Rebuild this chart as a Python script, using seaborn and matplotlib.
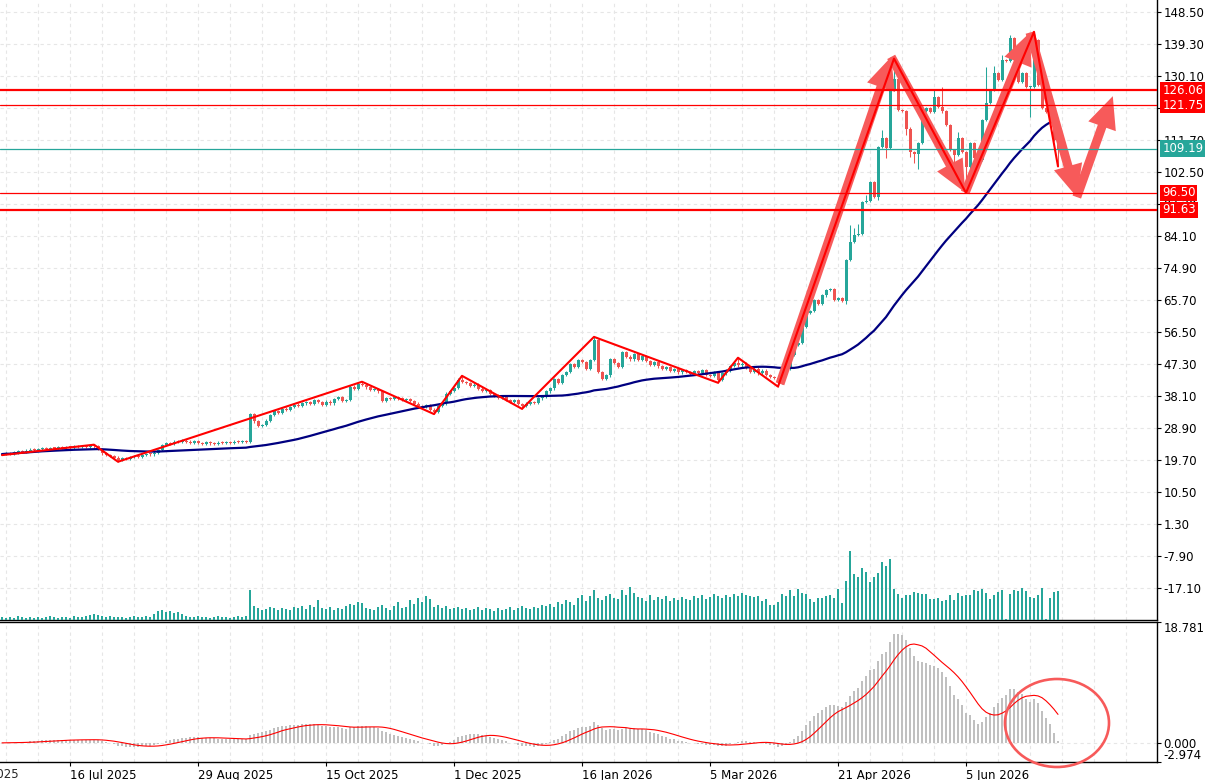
import numpy as np
import pandas as pd
import matplotlib
matplotlib.use("Agg")
import matplotlib.pyplot as plt
import matplotlib.transforms as mtransforms
from matplotlib.patches import Ellipse, FancyArrowPatch, ArrowStyle
import seaborn as sns

# daily closes, one per bar
closes = [
    21.4, 21.6, 21.5, 21.9, 22.2, 22.0, 22.4, 22.7, 22.5, 22.9,
    23.1, 22.8, 23.2, 23.0, 23.4, 23.1, 23.5, 23.3, 23.6, 23.4,
    23.7, 23.5, 23.8, 23.6, 22.8, 21.6, 21.2, 20.8, 20.4, 19.8,
    20.2, 20.0, 20.5, 20.9, 20.6, 21.1, 21.5, 21.3, 21.8, 22.6,
    24.0, 24.6, 24.3, 25.0, 24.8, 25.3, 25.0, 24.7, 25.1, 24.6,
    24.4, 24.8, 24.5, 24.3, 24.7, 24.6, 24.9, 24.7, 25.0, 24.8,
    25.2, 24.9, 33.0, 30.8, 29.6, 29.8, 31.0, 32.6, 33.8, 33.2,
    34.5, 34.1, 35.0, 35.6, 35.2, 36.0, 36.4, 35.9, 37.0, 36.4,
    35.6, 36.5, 36.0, 37.2, 37.8, 36.6, 37.0, 40.8, 40.2, 41.6,
    41.2, 40.6, 39.8, 40.1, 39.4, 36.8, 37.6, 37.2, 37.8, 37.4,
    36.9, 37.3, 36.6, 35.9, 35.3, 34.9, 35.4, 34.2, 33.6, 35.2,
    36.0, 38.8, 39.6, 40.4, 42.8, 42.2, 41.8, 41.0, 41.4, 40.2,
    39.6, 39.9, 38.7, 38.2, 37.5, 37.9, 37.0, 36.4, 36.9, 35.8,
    35.3, 35.9, 36.4, 36.1, 37.4, 37.9, 39.4, 40.3, 42.9, 41.8,
    44.2, 45.0, 47.2, 46.4, 48.4, 47.8, 45.9, 48.5, 54.2, 45.0,
    43.0, 44.0, 48.8, 47.6, 46.5, 50.8, 49.4, 48.6, 50.2, 48.4,
    49.6, 48.2, 47.1, 47.8, 46.6, 46.0, 46.4, 45.3, 45.8, 44.9,
    45.6, 45.0, 44.4, 45.3, 44.8, 45.6, 44.2, 43.8, 44.9, 42.8,
    44.6, 45.4, 46.8, 47.6, 46.9, 47.4, 46.2, 45.1, 46.0, 44.6,
    45.4, 44.1, 43.5, 43.2, 42.0, 45.0, 46.0, 49.9, 52.7, 53.3,
    58.0, 62.0, 62.6, 65.7, 64.6, 67.0, 68.6, 68.8, 65.7, 66.3,
    65.5, 77.2, 82.4, 84.4, 84.7, 93.9, 94.2, 99.7, 95.3, 109.7,
    112.3, 109.4, 126.0, 129.2, 120.3, 120.0, 115.0, 108.2, 107.6, 110.9,
    120.0, 120.8, 119.8, 124.0, 121.2, 119.9, 116.0, 108.8, 107.4, 112.3,
    108.3, 104.0, 110.9, 106.5, 105.9, 117.4, 122.4, 126.0, 131.0, 129.0,
    134.7, 134.5, 141.0, 135.6, 128.4, 131.0, 126.9, 127.0, 140.4, 127.5,
    120.9, 119.7, 117.5, 111.7, 109.19,
]
first_open = 21.2

# long shadows that stand out on the chart
high_marks = {212: 87.2, 213: 86.5, 214: 87.5, 216: 96.0, 220: 114.5, 224: 130.5,
              230: 121.7, 233: 126.0, 235: 127.0, 239: 114.0, 246: 132.8,
              248: 133.0, 250: 136.0, 252: 141.9}
low_marks = {211: 64.5, 219: 94.5, 221: 106.5, 226: 113.0, 227: 106.8, 228: 105.0,
             229: 103.5, 238: 105.0, 242: 100.0, 243: 104.0, 244: 103.0, 257: 118.4}

# volume per bar
volumes = [
    3, 2, 3, 2, 4, 3, 2, 3, 2, 3,
    2, 3, 4, 3, 2, 3, 3, 2, 4, 3,
    3, 4, 5, 6, 5, 4, 3, 4, 3, 3,
    3, 2, 3, 4, 3, 3, 4, 3, 6, 9,
    10, 8, 9, 7, 8, 6, 4, 3, 3, 4,
    3, 3, 2, 3, 4, 3, 3, 2, 3, 4,
    3, 4, 30, 14, 12, 10, 11, 13, 12, 10,
    12, 11, 10, 13, 12, 14, 11, 15, 13, 20,
    12, 11, 13, 10, 12, 11, 14, 16, 15, 18,
    17, 12, 11, 10, 13, 15, 12, 10, 14, 18,
    12, 13, 20, 16, 22, 18, 24, 21, 13, 15,
    12, 14, 11, 12, 13, 11, 12, 10, 11, 13,
    10, 12, 11, 9, 12, 10, 11, 13, 10, 12,
    14, 12, 11, 13, 12, 15, 14, 16, 13, 18,
    16, 20, 18, 15, 22, 25, 19, 24, 30, 22,
    20, 24, 26, 22, 21, 30, 25, 33, 27, 23,
    22, 19, 25, 20, 23, 21, 24, 19, 22, 20,
    23, 21, 20, 24, 22, 25, 21, 23, 26, 24,
    22, 25, 23, 26, 24, 27, 25, 24, 23, 24,
    19, 21, 15, 15, 18, 26, 24, 30, 24, 31,
    27, 26, 21, 18, 22, 22, 24, 25, 22, 31,
    17, 39, 69, 46, 43, 52, 48, 38, 43, 47,
    58, 54, 61, 31, 26, 22, 25, 25, 28, 27,
    26, 26, 21, 21, 22, 19, 20, 25, 20, 27,
    24, 25, 25, 30, 29, 31, 27, 21, 25, 28,
    30, 1, 26, 30, 29, 32, 29, 23, 22, 25,
    32, 1, 22, 28, 29,
]

# zigzag turning points (bar, price)
zz_bar = [0, 23, 29, 90, 108, 115, 130, 148, 179, 184, 194, 223, 241, 258, 264]
zz_price = [21.1, 24.1, 19.2, 42.2, 32.9, 43.9, 34.4, 55.1, 41.9, 49.1, 40.8,
            135.1, 96.5, 142.8, 104.1]

# hand drawn arrows path (bar, price)
arrow_bar = [194.5, 222.3, 240.8, 257.0, 268.7, 277.7]
arrow_price = [41.6, 135.6, 96.6, 142.6, 95.3, 124.3]

# horizontal levels
levels_thick = [126.06, 91.63]
levels_thin = [121.75, 96.50]
last_price = 109.19

price_ticks = [148.5, 139.3, 130.1, 120.9, 111.7, 102.5, 93.3, 84.1, 74.9, 65.7,
               56.5, 47.3, 38.1, 28.9, 19.7, 10.5, 1.3, -7.9, -17.1]
date_ticks = [17, 49, 81, 113, 145, 177, 209, 241]
date_labels = ["16 Jul 2025", "29 Aug 2025", "15 Oct 2025", "1 Dec 2025",
               "16 Jan 2026", "5 Mar 2026", "21 Apr 2026", "5 Jun 2026"]
macd_ticks = [18.781, 0.0, -2.974]

UP = "#26a69a"
DOWN = "#ef5350"
ARROW = "#f75a5a"

sns.set_theme(style="white")
plt.rcParams["font.family"] = ["DejaVu Sans"]

n = len(closes)
idx = np.arange(n)
c = np.array(closes)
o = np.concatenate([[first_open], c[:-1]])
hi = np.maximum(o, c) + 0.35
lo = np.minimum(o, c) - 0.35
for b, p in zip(zz_bar, zz_price):
    if p > max(o[b], c[b]):
        hi[b] = p
    else:
        lo[b] = p
for b, p in high_marks.items():
    hi[b] = p
for b, p in low_marks.items():
    lo[b] = p

df = pd.DataFrame({"bar": idx, "close": c})
df["ma"] = df["close"].rolling(50, min_periods=1).mean()
ema12 = df["close"].ewm(span=12, adjust=False).mean()
ema26 = df["close"].ewm(span=26, adjust=False).mean()
df["macd"] = ema12 - ema26
df["signal"] = df["macd"].rolling(9, min_periods=1).mean()

W, H = 1220, 780
fig = plt.figure(figsize=(W / 100, H / 100), dpi=100)
ax = fig.add_axes([0, 160 / H, 1157 / W, 620 / H])
axm = fig.add_axes([0, 18 / H, 1157 / W, 140 / H])

# volumes on their own scale at the bottom of the price window
axv = ax.twinx()
axv.set_ylim(0, 620)
axv.bar(idx, volumes, width=0.45, color=UP, linewidth=0)
axv.set_yticks([])
axv.tick_params(axis="y", length=0, labelright=False, labelleft=False)
for s in axv.spines.values():
    s.set_visible(False)

xlim = (-0.5, 288.75)
grid_kw = dict(color="#e6e6e6", linestyle=(0, (3, 3)), linewidth=0.8)

# ---- main panel
ax.set_xlim(*xlim)
axv.set_xlim(*xlim)
ax.set_ylim(-26.3, 151.95)
ax.set_xticks(np.arange(1, 289, 8))
ax.tick_params(axis="x", length=0, labelbottom=False)
ax.set_yticks(price_ticks)
ax.set_yticklabels([f"{t:.2f}" for t in price_ticks])
ax.yaxis.tick_right()
ax.tick_params(axis="y", which="both", direction="out", length=3, width=0.8,
               pad=1.5, labelsize=8.5, colors="black",
               left=False, labelleft=False, right=True, labelright=True)
ax.grid(True, **grid_kw)
for s in ["left", "top"]:
    ax.spines[s].set_visible(False)
for s in ["right", "bottom"]:
    ax.spines[s].set_visible(True)
    ax.spines[s].set_color("black")
    ax.spines[s].set_linewidth(1)

# candles
cols = np.where(c >= o, UP, DOWN)
ax.vlines(idx, lo, hi, colors=cols, linewidth=0.75, zorder=2)
body = np.maximum(np.abs(c - o), 0.3)
ax.bar(idx, body, bottom=np.minimum(o, c), width=0.75, color=cols,
       linewidth=0, zorder=2)

sns.lineplot(data=df, x="bar", y="ma", ax=ax, color="#000080", linewidth=1.6,
             zorder=3)

# arrows
for i in range(len(arrow_bar) - 1):
    arr = FancyArrowPatch((arrow_bar[i], arrow_price[i]),
                          (arrow_bar[i + 1], arrow_price[i + 1]),
                          arrowstyle=ArrowStyle("simple", head_length=23,
                                                head_width=21, tail_width=6.5),
                          mutation_scale=1, color=ARROW, linewidth=0,
                          shrinkA=0, shrinkB=0, zorder=4, clip_on=False)
    ax.add_patch(arr)

for lv in levels_thick:
    ax.axhline(lv, color="#ff0000", linewidth=1.6, zorder=5)
for lv in levels_thin:
    ax.axhline(lv, color="#ff0000", linewidth=0.9, zorder=5)
ax.axhline(last_price, color=UP, linewidth=0.9, zorder=5)

sns.lineplot(x=zz_bar, y=zz_price, ax=ax, color="#ff0000", linewidth=1.5,
             zorder=6)
ax.set_xlabel("")
ax.set_ylabel("")

# price tags on the right scale
trans = mtransforms.blended_transform_factory(ax.transAxes, ax.transData)
for lv, fc in [(126.06, "#ff0000"), (121.75, "#ff0000"), (last_price, UP),
               (96.50, "#ff0000"), (91.63, "#ff0000")]:
    ax.text(1.0045, lv, f"{lv:.2f}", transform=trans, ha="left", va="center",
            color="white", fontsize=8.5, zorder=10, clip_on=False,
            bbox=dict(boxstyle="square,pad=0.15", fc=fc, ec="none"))

# ---- MACD panel
axm.set_xlim(*xlim)
axm.set_ylim(-2.974, 18.781)
axm.bar(df["bar"], df["macd"], width=0.5, color="#c0c0c0", linewidth=0, zorder=2)
sns.lineplot(data=df, x="bar", y="signal", ax=axm, color="#ff0000",
             linewidth=0.8, zorder=3)
axm.axhline(0, zorder=1, **grid_kw)
axm.set_xticks(date_ticks)
axm.set_xticklabels(date_labels)
axm.set_xticks(np.arange(1, 289, 8), minor=True)
axm.grid(True, axis="x", which="both", **grid_kw)
axm.tick_params(axis="x", which="major", direction="out", length=3, width=0.8,
                pad=2, labelsize=8.5, colors="black", bottom=True)
axm.tick_params(axis="x", which="minor", length=0)
for lbl in axm.get_xticklabels():
    lbl.set_ha("left")
axm.text(-15, -0.04, "29 May 2025", transform=mtransforms.blended_transform_factory(
    axm.transData, axm.transAxes), ha="left", va="top", fontsize=8.5,
    clip_on=False)
axm.set_yticks(macd_ticks)
axm.set_yticklabels([f"{t:.3f}" for t in macd_ticks])
axm.yaxis.tick_right()
axm.tick_params(axis="y", direction="out", length=3, width=0.8, pad=1.5,
                labelsize=8.5, colors="black")
ylbls = axm.get_yticklabels()
ylbls[0].set_va("top")
ylbls[2].set_va("bottom")
axm.spines["left"].set_visible(False)
for s in ["right", "bottom", "top"]:
    axm.spines[s].set_color("black")
    axm.spines[s].set_linewidth(1)
axm.set_xlabel("")
axm.set_ylabel("")

# circle drawn around the end of the MACD
ell = Ellipse((1057 / W, 1 - 723 / H), 104 / W, 88 / H, transform=fig.transFigure,
              fill=False, edgecolor=ARROW, linewidth=1.9, zorder=20)
fig.add_artist(ell)

fig.savefig("out.png", dpi=100)
